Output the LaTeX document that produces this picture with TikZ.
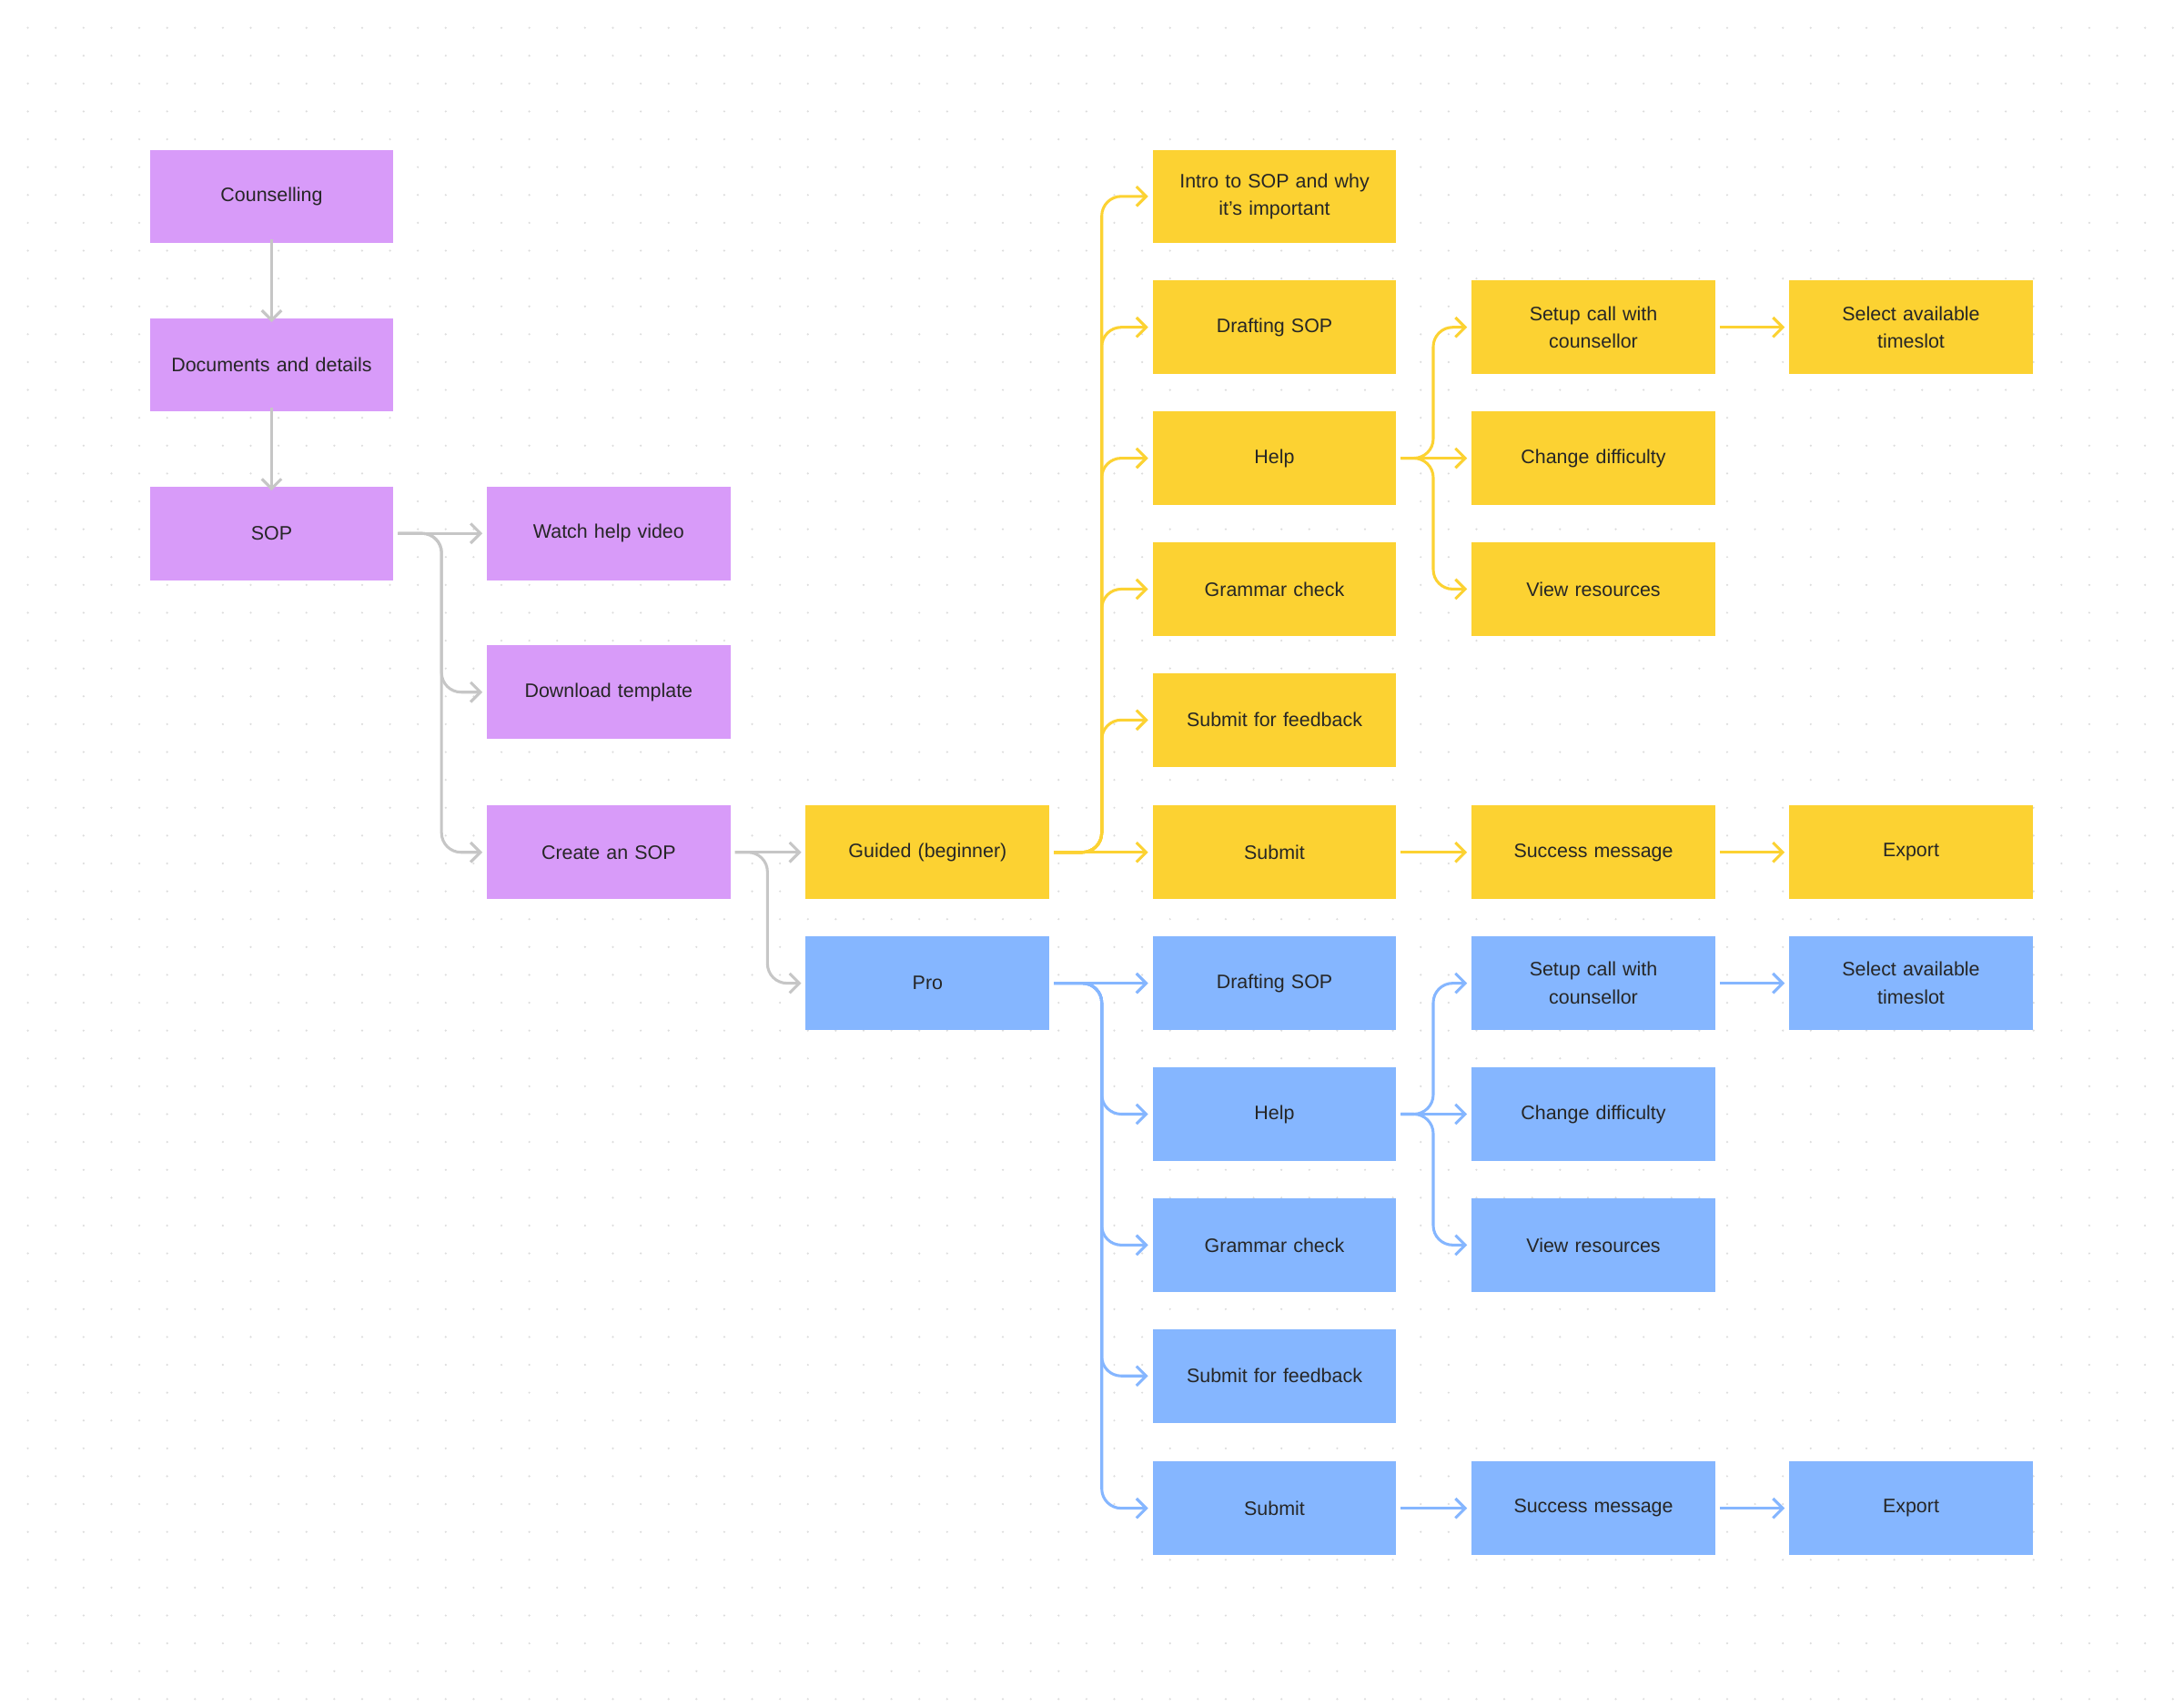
\documentclass[tikz,border=0pt]{standalone}
\usepackage{fontspec}
\setmainfont{Liberation Sans}
\usetikzlibrary{arrows.meta}
\definecolor{pur}{HTML}{D89BF9}
\definecolor{yel}{HTML}{FCD232}
\definecolor{blu}{HTML}{85B6FF}
\definecolor{gra}{HTML}{C6C6C6}
\definecolor{dotc}{HTML}{DDDDDD}
\begin{document}
\begin{tikzpicture}[x=1pt,y=-1pt,
 box/.style={minimum width=175pt,minimum height=67pt,inner sep=2pt,align=center,text width=165pt,font=\fontsize{14}{20}\selectfont,text=black!85},
 pbox/.style={box,fill=pur},ybox/.style={box,fill=yel},bbox/.style={box,fill=blu},
 con/.style={line width=2pt,rounded corners=14pt,-{Straight Barb[length=7pt,width=14pt,line width=2pt]}},
 gc/.style={con,draw=gra},yc/.style={con,draw=yel},bc/.style={con,draw=blu}]
\fill[white] (0,0) rectangle (1568,1225);
\useasboundingbox (0,0) rectangle (1568,1225);
\foreach \i in {1,...,78}{\foreach \j in {1,...,61}{\fill[dotc] (\i*20,\j*20) circle (0.8pt);}}
\node[pbox] (c) at (195,141) {Counselling};
\node[pbox] (d) at (195,262) {Documents and details};
\node[pbox] (s) at (195,383) {SOP};
\node[pbox] (w) at (437,383) {Watch help video};
\node[pbox] (t) at (437,497) {Download template};
\node[pbox] (cr) at (437,612) {Create an SOP};
\node[ybox] (g) at (666,612) {Guided (beginner)};
\node[bbox] (p) at (666,706) {Pro};
\node[ybox] (y1) at (915,141) {Intro to SOP and why\\it’s important};
\node[ybox] (y2) at (915,235) {Drafting SOP};
\node[ybox] (y3) at (915,329) {Help};
\node[ybox] (y4) at (915,423) {Grammar check};
\node[ybox] (y5) at (915,517) {Submit for feedback};
\node[ybox] (y6) at (915,612) {Submit};
\node[ybox] (ys) at (1144,235) {Setup call with\\counsellor};
\node[ybox] (yt) at (1372,235) {Select available\\timeslot};
\node[ybox] (yd) at (1144,329) {Change difficulty};
\node[ybox] (yv) at (1144,423) {View resources};
\node[ybox] (ym) at (1144,612) {Success message};
\node[ybox] (ye) at (1372,612) {Export};
\node[bbox] (b2) at (915,706) {Drafting SOP};
\node[bbox] (b3) at (915,800) {Help};
\node[bbox] (b4) at (915,894) {Grammar check};
\node[bbox] (b5) at (915,988) {Submit for feedback};
\node[bbox] (b6) at (915,1083) {Submit};
\node[bbox] (bs) at (1144,706) {Setup call with\\counsellor};
\node[bbox] (bt) at (1372,706) {Select available\\timeslot};
\node[bbox] (bd) at (1144,800) {Change difficulty};
\node[bbox] (bv) at (1144,894) {View resources};
\node[bbox] (bm) at (1144,1083) {Success message};
\node[bbox] (be) at (1372,1083) {Export};
\draw[gc] ([yshift=3pt]c.south) -- ([yshift=-3pt]d.north);
\draw[gc] ([yshift=3pt]d.south) -- ([yshift=-3pt]s.north);
\draw[gc] ([xshift=3pt]s.east) -- ([xshift=-3pt]w.west);
\foreach \n in {t,cr}{\draw[gc] ([xshift=3pt]s.east) -- (317,383) |- ([xshift=-3pt]\n.west);}
\draw[gc] ([xshift=3pt]cr.east) -- ([xshift=-3pt]g.west);
\draw[gc] ([xshift=3pt]cr.east) -- (551,612) |- ([xshift=-3pt]p.west);
\draw[yc] ([xshift=3pt]g.east) -- ([xshift=-3pt]y6.west);
\foreach \n in {y1,y2,y3,y4,y5}{\draw[yc] ([xshift=3pt]g.east) -- (791,612) |- ([xshift=-3pt]\n.west);}
\draw[yc] ([xshift=3pt]y3.east) -- ([xshift=-3pt]yd.west);
\foreach \n in {ys,yv}{\draw[yc] ([xshift=3pt]y3.east) -- (1029,329) |- ([xshift=-3pt]\n.west);}
\draw[yc] ([xshift=3pt]ys.east) -- ([xshift=-3pt]yt.west);
\draw[yc] ([xshift=3pt]y6.east) -- ([xshift=-3pt]ym.west);
\draw[yc] ([xshift=3pt]ym.east) -- ([xshift=-3pt]ye.west);
\draw[bc] ([xshift=3pt]p.east) -- ([xshift=-3pt]b2.west);
\foreach \n in {b3,b4,b5,b6}{\draw[bc] ([xshift=3pt]p.east) -- (791,706) |- ([xshift=-3pt]\n.west);}
\draw[bc] ([xshift=3pt]b3.east) -- ([xshift=-3pt]bd.west);
\foreach \n in {bs,bv}{\draw[bc] ([xshift=3pt]b3.east) -- (1029,800) |- ([xshift=-3pt]\n.west);}
\draw[bc] ([xshift=3pt]bs.east) -- ([xshift=-3pt]bt.west);
\draw[bc] ([xshift=3pt]b6.east) -- ([xshift=-3pt]bm.west);
\draw[bc] ([xshift=3pt]bm.east) -- ([xshift=-3pt]be.west);
\end{tikzpicture}
\end{document}
